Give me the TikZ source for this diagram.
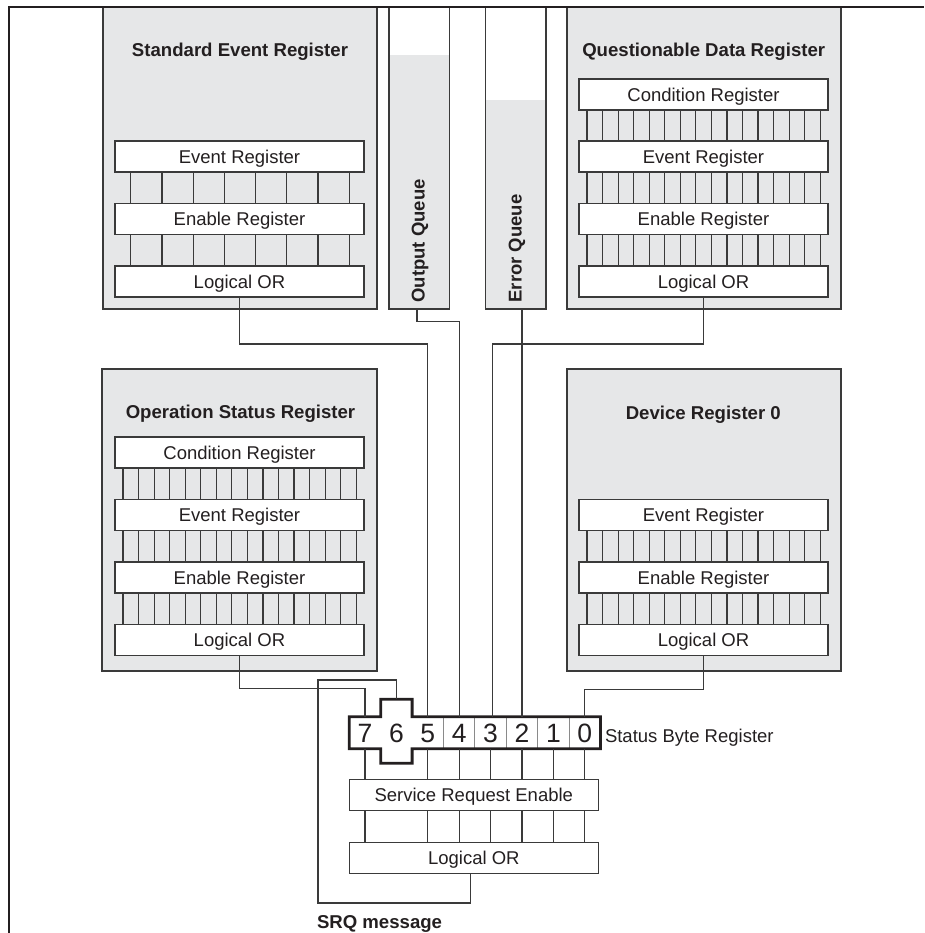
\documentclass[tikz,border=0pt]{standalone}
\usepackage{fontspec}
\setmainfont{Liberation Sans}
\usetikzlibrary{calc}
\definecolor{panel}{HTML}{E6E7E8}
\definecolor{ink}{HTML}{3A3A3A}
\definecolor{txt}{HTML}{231F20}
\definecolor{divider}{HTML}{8A8A8A}
\newcommand\buseight[2]{\foreach \k in {0,...,7}{\draw[wire] ([xshift={15.7+31.2*\k}]#1.south west) -- ([xshift={15.7+31.2*\k}]#2.north west);}}
\newcommand\bussixteen[2]{\foreach \k in {0,...,15}{\draw[wire] ([xshift={8+15.55*\k}]#1.south west) -- ([xshift={8+15.55*\k}]#2.north west);}}
\begin{document}
\begin{tikzpicture}[x=1pt,y=-1pt,line join=miter,
  every node/.style={inner sep=0pt,outer sep=0pt,text=txt},
  panelbox/.style={draw=ink,fill=panel,line width=1.3pt,anchor=north west,minimum width=274pt,minimum height=302pt},
  queuebox/.style={draw=ink,fill=white,line width=1.3pt,anchor=north west,minimum width=60.5pt,minimum height=302pt},
  regbox/.style={draw=ink,fill=white,line width=1.2pt,minimum width=249pt,minimum height=31pt,font=\fontsize{18.5}{20}\selectfont,text height=13.3pt,text depth=0pt},
  titletext/.style={font=\fontsize{18.6}{20}\selectfont\bfseries,anchor=base},
  queuetext/.style={font=\fontsize{18.5}{20}\selectfont\bfseries,rotate=90,anchor=west},
  wire/.style={draw=ink,line width=1.2pt},
  cell/.style={minimum width=31.4pt,minimum height=32pt,font=\fontsize{26.5}{28}\selectfont,text height=18.8pt,text depth=0pt},
  thickline/.style={draw=txt,line width=2.8pt,line join=miter},
  thinline/.style={draw=divider,line width=0.9pt}
]
\useasboundingbox (0,0) rectangle (924,933);

% ---------- Standard Event Register ----------
\node[panelbox] (ser) at (103,7) {};
\node[titletext] (serT) at (240,56.7) {Standard Event Register};
\node[regbox] (serEv) at (239.5,156.5) {Event Register};
\node[regbox] (serEn) at (239.5,219) {Enable Register};
\node[regbox] (serOR) at (239.5,281.5) {Logical OR};
\buseight{serEv}{serEn}
\buseight{serEn}{serOR}

% ---------- Queues ----------
\node[queuebox] (oq) at (389,7) {};
\fill[panel] ([yshift=-48pt]oq.north west) rectangle (oq.south east);
\draw[ink,line width=1.3pt] (oq.north west) rectangle (oq.south east);
\node[queuetext] (oqT) at (420,302.5) {Output Queue};

\node[queuebox] (eq) at (485.5,7) {};
\fill[panel] ([yshift=-93pt]eq.north west) rectangle (eq.south east);
\draw[ink,line width=1.3pt] (eq.north west) rectangle (eq.south east);
\node[queuetext] (eqT) at (517,302.5) {Error Queue};

% ---------- Questionable Data Register ----------
\node[panelbox] (qdr) at (567,7) {};
\node[titletext] (qdrT) at (703.7,56.7) {Questionable Data Register};
\node[regbox] (qdrCo) at (703.5,94.5) {Condition Register};
\node[regbox] (qdrEv) at (703.5,156.5) {Event Register};
\node[regbox] (qdrEn) at (703.5,219) {Enable Register};
\node[regbox] (qdrOR) at (703.5,281.5) {Logical OR};
\bussixteen{qdrCo}{qdrEv}
\bussixteen{qdrEv}{qdrEn}
\bussixteen{qdrEn}{qdrOR}

% ---------- Operation Status Register ----------
\node[panelbox,minimum width=275pt] (osr) at (102,369) {};
\node[titletext] (osrT) at (240.5,418.5) {Operation Status Register};
\node[regbox] (osrCo) at (239.5,452.5) {Condition Register};
\node[regbox] (osrEv) at (239.5,515) {Event Register};
\node[regbox] (osrEn) at (239.5,577.5) {Enable Register};
\node[regbox] (osrOR) at (239.5,640) {Logical OR};
\bussixteen{osrCo}{osrEv}
\bussixteen{osrEv}{osrEn}
\bussixteen{osrEn}{osrOR}

% ---------- Device Register 0 ----------
\node[panelbox] (dr) at (567,369) {};
\node[titletext] (drT) at (703.3,419) {Device Register 0};
\node[regbox] (drEv) at (703.5,515) {Event Register};
\node[regbox] (drEn) at (703.5,577.5) {Enable Register};
\node[regbox] (drOR) at (703.5,640) {Logical OR};
\bussixteen{drEv}{drEn}
\bussixteen{drEn}{drOR}

% ---------- Status Byte Register ----------
\foreach \b/\x in {7/365,5/427.8,4/459.2,3/490.6,2/522,1/553.4,0/584.8}
  {\node[cell] (b\b) at (\x,732.7) {\b};}
\node[cell,minimum height=64pt] (b6) at (396.4,731.3) {};
\node[cell] (d6) at (396.4,732.7) {6};
\foreach \b in {5,4,3,2,1}
  {\draw[thinline] (b\b.north east) -- (b\b.south east);}
\draw[thickline] (b7.north west) -- (b7.north east) -- (b6.north west) -- (b6.north east)
  -- (b5.north west) -- (b0.north east) -- (b0.south east) -- (b5.south west)
  -- (b6.south east) -- (b6.south west) -- (b7.south east) -- (b7.south west) -- cycle;
\node[font=\fontsize{18.5}{20}\selectfont,anchor=base west] (sbrT) at (605,742) {Status Byte Register};

\node[regbox] (sre) at (473.8,795.3) {Service Request Enable};
\node[regbox] (srqor) at (473.8,858) {Logical OR};
\foreach \b in {7,5,4,3,2,1,0}
  {\draw[wire] (b\b.south) -- (b\b.south |- sre.north);
   \draw[wire] (b\b.south |- sre.south) -- (b\b.south |- srqor.north);}

% ---------- connectors ----------
\draw[wire] (serOR.south) -- ++(0,47) -| (b5.north);
\draw[wire] ([xshift=-2.3pt]oq.south) -- ++(0,12.7) -| (b4.north);
\draw[wire] (qdrOR.south) -- ++(0,47) -| ([xshift=2pt]b3.north);
\draw[wire] (b2.north |- eq.south) -- (b2.north);
\draw[wire] (osrOR.south) -- ++(0,33) -| (b7.north);
\draw[wire] (drOR.south) -- ++(0,34) -| (b0.north);

\coordinate (loopA) at (318,680);
\coordinate (loopB) at (318,903);
\draw[wire] (b6.north) |- (loopA) -- (loopB) -| ([xshift=-3pt]srqor.south);
\node[titletext,anchor=base west] (srq) at (317,928.3) {SRQ message};

% ---------- frame ----------
\draw[txt,line width=1.5pt] (9,933) -- (9,7) -- (924,7);
\end{tikzpicture}
\end{document}
